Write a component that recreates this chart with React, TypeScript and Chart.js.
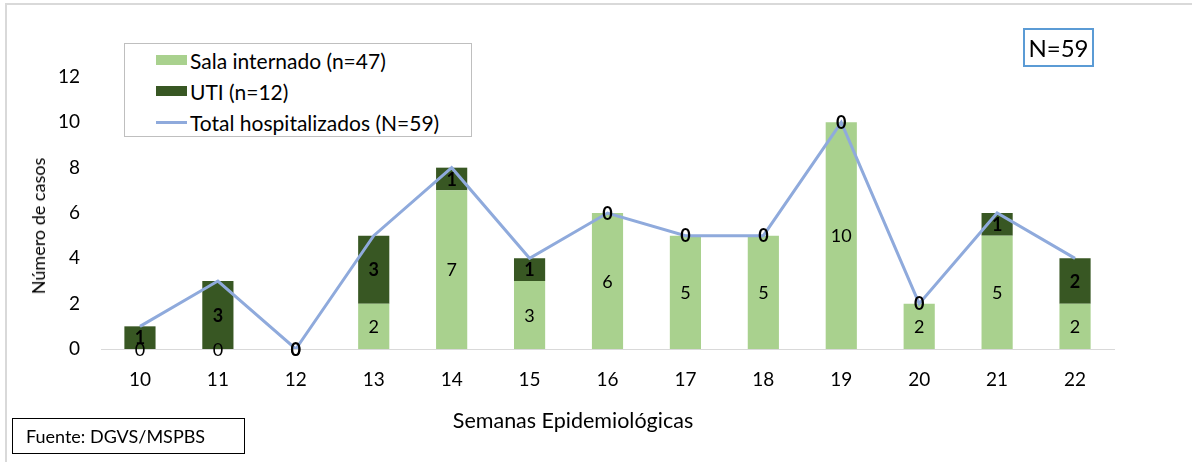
import React, { useEffect, useRef } from "react";
import { Chart, registerables } from "chart.js";

Chart.register(...registerables);

const weeks = ["10", "11", "12", "13", "14", "15", "16", "17", "18", "19", "20", "21", "22"];
const salaInternado = [0, 0, 0, 2, 7, 3, 6, 5, 5, 10, 2, 5, 2];
const uti = [1, 3, 0, 3, 1, 1, 0, 0, 0, 0, 0, 1, 2];
const totalHospitalizados = [1, 3, 0, 5, 8, 4, 6, 5, 5, 10, 2, 6, 4];
const yTicks = [0, 2, 4, 6, 8, 10, 12];

const FONT = "Lato, 'Open Sans', sans-serif";
const C_SALA = "#a9d18e";
const C_UTI = "#385723";
const C_LINE = "#8faadc";

const labelPlugin = {
  id: "barLabels",
  afterDatasetsDraw(chart: any) {
    const ctx = chart.ctx;
    ctx.save();
    ctx.textAlign = "center";
    ctx.textBaseline = "middle";
    ctx.fillStyle = "#000";
    [0, 1].forEach((di) => {
      const meta = chart.getDatasetMeta(di);
      const data = chart.data.datasets[di].data as number[];
      ctx.font = (di === 1 ? "bold " : "") + "18px " + FONT;
      meta.data.forEach((el: any, i: number) => {
        const y = (el.y + el.base) / 2;
        ctx.fillText(String(data[i]), el.x, y + 1);
      });
    });
    ctx.restore();
  },
};

export default function App() {
  const ref = useRef<HTMLCanvasElement>(null);
  useEffect(() => {
    if (!ref.current) return;
    const chart = new Chart(ref.current, {
      type: "bar",
      data: {
        labels: weeks,
        datasets: [
          {
            type: "bar",
            label: "Sala internado (n=47)",
            data: salaInternado,
            backgroundColor: C_SALA,
            stack: "s",
            barPercentage: 0.4,
            categoryPercentage: 1,
            order: 2,
          },
          {
            type: "bar",
            label: "UTI (n=12)",
            data: uti,
            backgroundColor: C_UTI,
            stack: "s",
            barPercentage: 0.4,
            categoryPercentage: 1,
            order: 2,
          },
          {
            type: "line",
            label: "Total hospitalizados (N=59)",
            data: totalHospitalizados,
            borderColor: C_LINE,
            borderWidth: 3,
            pointRadius: 0,
            tension: 0,
            order: 1,
          } as any,
        ],
      },
      options: {
        animation: false,
        responsive: false,
        layout: { padding: { left: 27, right: 78, top: 77, bottom: 0 } },
        plugins: { legend: { display: false }, tooltip: { enabled: false } },
        scales: {
          x: {
            stacked: true,
            grid: { display: false, drawTicks: false },
            border: { display: true, color: "#d9d9d9", width: 1 },
            ticks: { color: "#000", font: { family: FONT, size: 19 }, padding: 19 },
            title: { display: false },
            afterFit: (s: any) => {
              s.height = 462 - 349;
            },
          },
          y: {
            stacked: true,
            min: 0,
            max: 12,
            grid: { display: false, drawTicks: false },
            border: { display: false },
            afterBuildTicks: (s: any) => {
              s.ticks = yTicks.map((v) => ({ value: v }));
            },
            ticks: { color: "#000", font: { family: FONT, size: 19 }, padding: 21 },
            title: { display: false },
            afterFit: (s: any) => {
              s.width = 74;
            },
          },
        },
      },
      plugins: [labelPlugin],
    });
    return () => chart.destroy();
  }, []);

  const legendItems = [
    { label: "Sala internado (n=47)", color: C_SALA, kind: "box" },
    { label: "UTI (n=12)", color: C_UTI, kind: "box" },
    { label: "Total hospitalizados (N=59)", color: C_LINE, kind: "line" },
  ];

  return (
    <div style={{ position: "fixed", left: 0, top: 0, width: 1192, height: 462, background: "#fff", fontFamily: FONT, overflow: "hidden" }}>
      <div style={{ position: "absolute", left: 5, top: 3, width: 1187, height: 459, borderTop: "2px solid #d9d9d9", borderLeft: "2px solid #d9d9d9", boxSizing: "border-box" }} />
      <canvas ref={ref} width={1192} height={462} style={{ position: "absolute", left: 0, top: 0 }} />
      <div style={{ position: "absolute", left: 38, top: 226, transform: "translate(-50%, -50%) rotate(-90deg)", fontSize: 18, lineHeight: "22px", color: "#000", whiteSpace: "nowrap" }}>
        Número de casos
      </div>
      <div style={{ position: "absolute", left: 573, top: 420, transform: "translate(-50%, -50%)", fontSize: 21.5, lineHeight: "26px", color: "#000", whiteSpace: "nowrap" }}>
        Semanas Epidemiológicas
      </div>
      <div style={{ position: "absolute", left: 124, top: 43, width: 348, height: 94, border: "1px solid #bfbfbf", boxSizing: "border-box", background: "#fff" }}>
        {legendItems.map((it, i) => (
          <div key={i} style={{ position: "absolute", left: 31, top: 2 + i * 31, height: 28, display: "flex", alignItems: "center", fontSize: 21, color: "#000", whiteSpace: "nowrap" }}>
            {it.kind === "box" ? (
              <span style={{ display: "inline-block", width: 31, height: 10, background: it.color, marginRight: 3 }} />
            ) : (
              <span style={{ display: "inline-block", width: 31, height: 3, background: it.color, marginRight: 3 }} />
            )}
            <span>{it.label}</span>
          </div>
        ))}
      </div>
      <div style={{ position: "absolute", left: 1023, top: 28, width: 71, height: 39, border: "2px solid #5b9bd5", boxSizing: "border-box", display: "flex", alignItems: "center", justifyContent: "center", fontSize: 24, color: "#000" }}>
        N=59
      </div>
      <div style={{ position: "absolute", left: 12, top: 418, width: 233, height: 36, border: "1px solid #000", boxSizing: "border-box", display: "flex", alignItems: "center", paddingLeft: 13, fontSize: 18, color: "#000" }}>
        Fuente: DGVS/MSPBS
      </div>
    </div>
  );
}
